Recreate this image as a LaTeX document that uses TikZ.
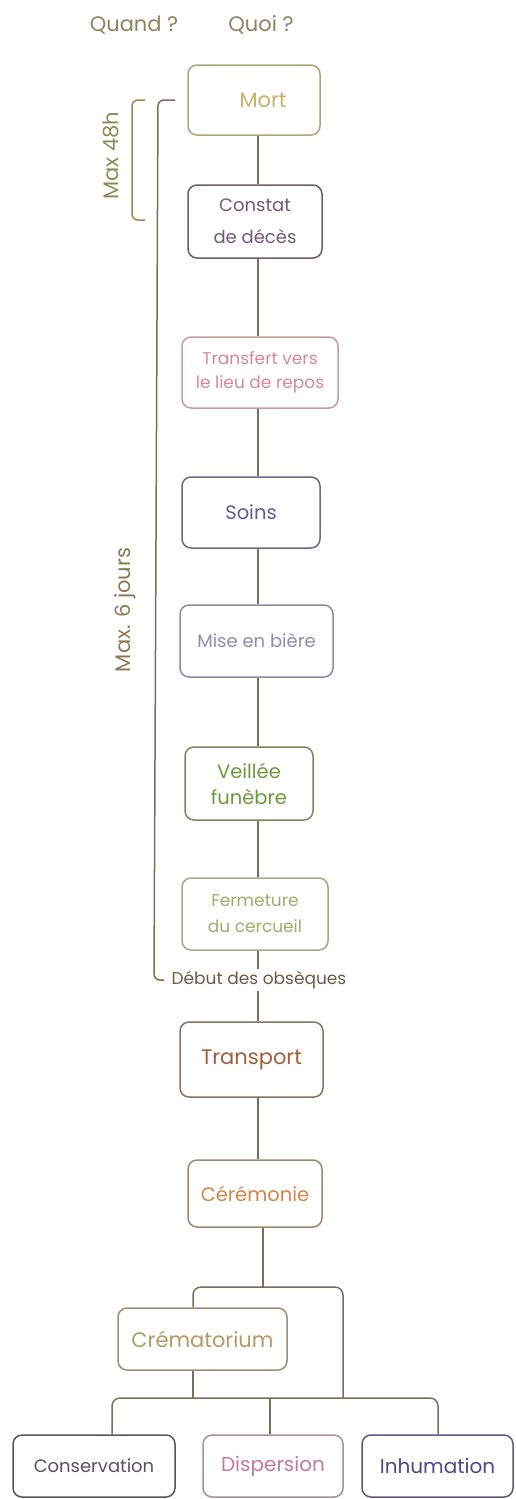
\documentclass[tikz,border=0pt]{standalone}
\usepackage{fontspec}
\setmainfont{Poppins}
\definecolor{linec}{HTML}{77705F}
\definecolor{hdr}{HTML}{8A8560}
\definecolor{brk}{HTML}{8C8C55}
\definecolor{brkb}{HTML}{8A7A55}
\definecolor{deb}{HTML}{6A5A4A}
\definecolor{tMort}{HTML}{C9B068}\definecolor{oMort}{HTML}{ABA77C}
\definecolor{tCon}{HTML}{6E5C72}\definecolor{oCon}{HTML}{6A6068}
\definecolor{tTra}{HTML}{D4899A}\definecolor{oTra}{HTML}{C89AA2}
\definecolor{tSoi}{HTML}{5C5C96}\definecolor{oSoi}{HTML}{6A6A8A}
\definecolor{tMis}{HTML}{8C8CB4}\definecolor{oMis}{HTML}{8C8CA8}
\definecolor{tVei}{HTML}{6E9A3C}\definecolor{oVei}{HTML}{7A8A60}
\definecolor{tFer}{HTML}{9AAE6A}\definecolor{oFer}{HTML}{A0AA88}
\definecolor{tTrp}{HTML}{A0603C}\definecolor{oTrp}{HTML}{8A7060}
\definecolor{tCer}{HTML}{D0854A}\definecolor{oCer}{HTML}{A08870}
\definecolor{tCre}{HTML}{B59A68}\definecolor{oCre}{HTML}{9A9078}
\definecolor{tCsv}{HTML}{5A5060}\definecolor{oCsv}{HTML}{5A5458}
\definecolor{tDis}{HTML}{C47A98}\definecolor{oDis}{HTML}{A89098}
\definecolor{tInh}{HTML}{4A4A88}\definecolor{oInh}{HTML}{5A5A80}
\tikzset{
  stepbox/.style={draw, rounded corners=9pt, line width=1.5pt, align=center,
    inner sep=0pt, font=\fontsize{18}{26}\selectfont},
  conn/.style={draw=linec, line width=1.5pt},
  brace/.style={line width=1.5pt, rounded corners=6pt},
}
\begin{document}
\begin{tikzpicture}[x=1pt,y=-1pt]
\useasboundingbox[fill=white] (0,0) rectangle (515,1499);
% headers
\node[text=hdr, font=\fontsize{21}{24}\selectfont] (quand) at (134,25) {Quand ?};
\node[text=hdr, font=\fontsize{21}{24}\selectfont] (quoi) at (261,25) {Quoi ?};
% boxes
\node[stepbox, draw=oMort, text=tMort, minimum width=132pt, minimum height=70pt, font=\fontsize{21}{26}\selectfont] (mort) at (254,100) {\hspace*{18pt}Mort};
\node[stepbox, draw=oCon, text=tCon, minimum width=134pt, minimum height=73pt, font=\fontsize{18}{32}\selectfont] (constat) at (255,221.5) {Constat\\de décès};
\node[stepbox, draw=oTra, text=tTra, minimum width=156pt, minimum height=71pt, font=\fontsize{17}{24}\selectfont] (transfert) at (260,372.5) {Transfert vers\\le lieu de repos};
\node[stepbox, draw=oSoi, text=tSoi, minimum width=138pt, minimum height=71pt, font=\fontsize{19.5}{26}\selectfont] (soins) at (251,512.5) {Soins};
\node[stepbox, draw=oMis, text=tMis, minimum width=153pt, minimum height=72pt, font=\fontsize{18}{26}\selectfont] (mise) at (256.5,641) {Mise en bière};
\node[stepbox, draw=oVei, text=tVei, minimum width=128pt, minimum height=73pt, font=\fontsize{19.5}{26}\selectfont] (veillee) at (249,783.5) {Veillée\\funèbre};
\node[stepbox, draw=oFer, text=tFer, minimum width=146pt, minimum height=72pt, font=\fontsize{17}{26}\selectfont] (fermeture) at (255,914) {Fermeture\\du cercueil};
\node[text=deb, font=\fontsize{17}{20}\selectfont, inner sep=2pt] (debut) at (259,980) {Début des obsèques};
\node[stepbox, draw=oTrp, text=tTrp, minimum width=143pt, minimum height=75pt, font=\fontsize{21}{26}\selectfont] (transport) at (251.5,1059.5) {Transport};
\node[stepbox, draw=oCer, text=tCer, minimum width=134pt, minimum height=67pt, font=\fontsize{19.5}{26}\selectfont] (ceremonie) at (255,1193.5) {Cérémonie};
\node[stepbox, draw=oCre, text=tCre, minimum width=169pt, minimum height=62pt, font=\fontsize{21}{26}\selectfont] (crem) at (202.5,1339) {Crématorium};
\node[stepbox, draw=oCsv, text=tCsv, minimum width=162pt, minimum height=62pt, font=\fontsize{18}{26}\selectfont] (conservation) at (94,1466) {Conservation};
\node[stepbox, draw=oDis, text=tDis, minimum width=140pt, minimum height=62pt, font=\fontsize{20}{26}\selectfont] (dispersion) at (273,1466) {Dispersion};
\node[stepbox, draw=oInh, text=tInh, minimum width=151pt, minimum height=62pt, font=\fontsize{20}{26}\selectfont] (inhumation) at (437.5,1466) {Inhumation};
% spine
\coordinate (sp) at (258,0);
\draw[conn] (mort.south -| sp) -- (constat.north -| sp);
\draw[conn] (constat.south -| sp) -- (transfert.north -| sp);
\draw[conn] (transfert.south -| sp) -- (soins.north -| sp);
\draw[conn] (soins.south -| sp) -- (mise.north -| sp);
\draw[conn] (mise.south -| sp) -- (veillee.north -| sp);
\draw[conn] (veillee.south -| sp) -- (fermeture.north -| sp);
\draw[conn] (fermeture.south -| sp) -- (debut.north -| sp);
\draw[conn] (debut.south -| sp) -- (transport.north -| sp);
\draw[conn] (transport.south -| sp) -- (ceremonie.north -| sp);
% tree
\coordinate (s1) at (263,1287);
\coordinate (d1) at (193,1287);
\coordinate (d2) at (343,1287);
\coordinate (e1) at (112,1398);
\coordinate (e2) at (270,1398);
\coordinate (e3) at (438,1398);
\draw[conn] (ceremonie.south -| s1) -- (s1);
\draw[conn, rounded corners=8pt] (crem.north -| d1) -- (d1) -- (d2) -- (d2 |- e1);
\draw[conn] (crem.south -| d1) -- (d1 |- e1);
\draw[conn, rounded corners=8pt] (conservation.north -| e1) -- (e1) -- (e3) -- (inhumation.north -| e3);
\draw[conn] (e2) -- (dispersion.north -| e2);
% brackets
\coordinate (b1t) at (145,100);
\coordinate (b1b) at (145,220);
\draw[brace, draw=brk] (b1t) -- (132,100) -- (132,220) -- (b1b);
\node[text=brk, rotate=90, font=\fontsize{21}{24}\selectfont] (max48) at (111,156) {Max 48h};
\coordinate (b2t) at (175,100);
\coordinate (b2b) at (164,980);
\draw[brace, draw=linec] (b2t) -- (158,100) -- (154,980) -- (b2b);
\node[text=brkb, rotate=90, font=\fontsize{21}{24}\selectfont] (max6) at (125,610) {Max. 6 jours};
\end{tikzpicture}
\end{document}
